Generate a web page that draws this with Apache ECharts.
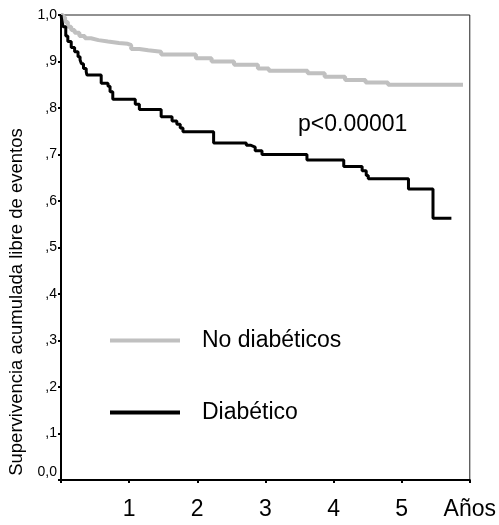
<!DOCTYPE html>
<html>
<head>
<meta charset="utf-8">
<script src="https://cdn.jsdelivr.net/npm/echarts@6/dist/echarts.min.js"></script>
<style>html,body{margin:0;padding:0;background:#fff}#c{width:499px;height:525px}</style>
</head>
<body>
<div id="c"></div>
<script>
const xTickLabels = ['', '1', '2', '3', '4', '5', 'Años'];
const yTickLabels = ['0,0', ',1', ',2', ',3', ',4', ',5', ',6', ',7', ',8', ',9', '1,0'];
const seriesNames = ['No diabéticos', 'Diabético'];
const noDiabTime = [0, 0.03, 0.06, 0.10, 0.15, 0.20, 0.27, 0.35, 0.44, 0.55, 0.69, 0.85, 0.98, 1.03, 1.15, 1.28, 1.47, 1.98, 2.21, 2.54, 2.89, 3.05, 3.62, 3.87, 4.17, 4.47, 4.80, 5.90];
const noDiabSurv = [1.0, 0.995, 0.985, 0.975, 0.968, 0.962, 0.955, 0.950, 0.946, 0.943, 0.940, 0.938, 0.935, 0.927, 0.924, 0.921, 0.915, 0.907, 0.900, 0.893, 0.885, 0.880, 0.875, 0.867, 0.860, 0.855, 0.850, 0.850];
const diabTime = [0, 0.01, 0.03, 0.07, 0.10, 0.15, 0.20, 0.25, 0.28, 0.30, 0.33, 0.37, 0.38, 0.59, 0.69, 0.72, 0.76, 1.09, 1.15, 1.47, 1.63, 1.70, 1.75, 1.79, 2.24, 2.72, 2.78, 2.85, 2.95, 3.61, 4.15, 4.42, 4.48, 4.51, 5.10, 5.46, 5.73];
const diabSurv = [1.0, 0.990, 0.975, 0.955, 0.943, 0.930, 0.921, 0.910, 0.903, 0.895, 0.885, 0.878, 0.871, 0.853, 0.847, 0.835, 0.819, 0.808, 0.797, 0.781, 0.772, 0.765, 0.757, 0.749, 0.725, 0.720, 0.716, 0.708, 0.700, 0.688, 0.674, 0.665, 0.655, 0.648, 0.626, 0.563, 0.563];
const pValueText = 'p<0.00001';
const yAxisTitle = 'Supervivencia acumulada libre de eventos';

const FONT = '"Liberation Sans", Arial, Helvetica, sans-serif';
const chart = echarts.init(document.getElementById('c'), null, {renderer: 'canvas'});
chart.setOption({
  animation: false,
  backgroundColor: '#fff',
  grid: {left: 61, right: 29, top: 15, bottom: 45, show: true, borderColor: '#222', borderWidth: 1, backgroundColor: 'transparent'},
  xAxis: {
    type: 'value', min: 0, max: 6, interval: 1,
    axisLine: {show: true, lineStyle: {color: '#000', width: 2}},
    axisTick: {show: true, length: 3, lineStyle: {color: '#000', width: 2}},
    splitLine: {show: false},
    axisLabel: {margin: 18, fontSize: 23, fontFamily: FONT, color: '#000',
      formatter: v => xTickLabels[Math.round(v)] || ''}
  },
  yAxis: {
    type: 'value', min: 0, max: 1, interval: 0.1,
    axisLine: {show: true, lineStyle: {color: '#000', width: 2}},
    axisTick: {show: true, length: 3, lineStyle: {color: '#000', width: 2}},
    splitLine: {show: false},
    axisLabel: {margin: 4, fontSize: 14, fontFamily: FONT, color: '#000',
      formatter: v => {
        const i = Math.round(v * 10);
        return i === 0 ? '{z|' + yTickLabels[0] + '}' : (yTickLabels[i] || '');
      },
      rich: {z: {fontSize: 14, fontFamily: FONT, color: '#000', padding: [0, 0, 16, 0]}}
    }
  },
  legend: {
    orient: 'vertical', left: 105, top: 324, icon: 'rect',
    itemWidth: 70, itemHeight: 4, itemGap: 49,
    textStyle: {fontSize: 23, fontFamily: FONT, color: '#000', padding: [0, 0, 0, 17]},
    data: seriesNames
  },
  graphic: [
    {type: 'text', x: 298, y: 125, style: {text: pValueText, font: '23px ' + FONT, fill: '#000', verticalAlign: 'middle', align: 'left'}},
    {type: 'text', x: 17, y: 302, rotation: Math.PI / 2, style: {text: yAxisTitle, font: '18.5px ' + FONT, fill: '#000', verticalAlign: 'middle', align: 'center'}}
  ],
  series: [
    {name: seriesNames[0], type: 'line', step: 'end', symbol: 'none', clip: false,
      itemStyle: {color: '#c0c0c0'}, lineStyle: {color: '#c0c0c0', width: 4},
      data: noDiabTime.map((t, i) => [t, noDiabSurv[i]])},
    {name: seriesNames[1], type: 'line', step: 'end', symbol: 'none', clip: false,
      itemStyle: {color: '#000'}, lineStyle: {color: '#000', width: 3},
      data: diabTime.map((t, i) => [t, diabSurv[i]])}
  ]
});
</script>
</body>
</html>
